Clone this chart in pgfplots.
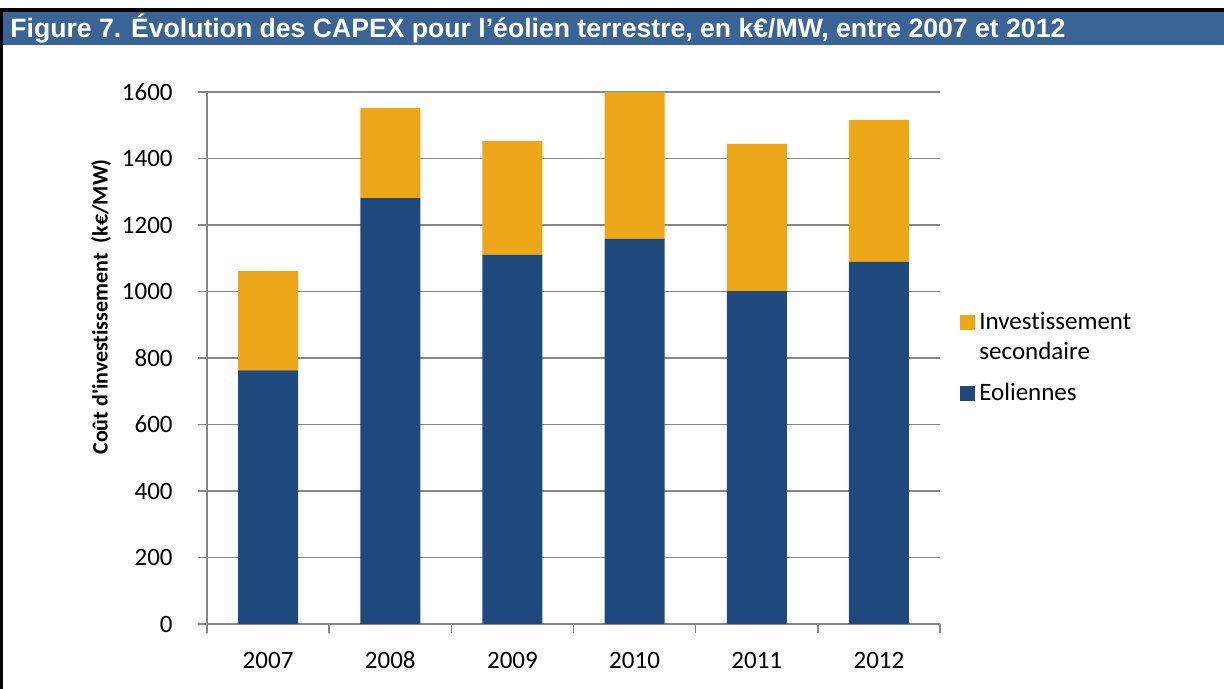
\documentclass[border=0pt]{standalone}
\usepackage{pgfplots}
\pgfplotsset{compat=1.18}
\usepackage{fontspec}
\setmainfont{Carlito}[Ligatures={TeXOff,NoCommon}]
\newfontfamily\titlefont{Liberation Sans}
\definecolor{titleblue}{HTML}{3A6396}
\definecolor{barblue}{HTML}{1F497D}
\definecolor{barorange}{HTML}{EDA617}
\definecolor{gridgray}{HTML}{868686}
\begin{document}
\begin{tikzpicture}
\path[use as bounding box] (0,0) rectangle (612pt,344.5pt);
\fill[titleblue] (1.5pt,322pt) rectangle (612pt,338.5pt);
\fill[black] (0,338.5pt) rectangle (612pt,340.5pt);
\fill[black] (0,0) rectangle (1.5pt,340.5pt);
\node[anchor=base west,text=white,font=\titlefont\bfseries\fontsize{13.3}{15}\selectfont,inner sep=0pt] at (5pt,325.5pt) {Figure 7. Évolution des CAPEX pour l’éolien terrestre, en k€/MW, entre 2007 et 2012};
\begin{axis}[
  at={(103.5pt,32.5pt)}, anchor=south west,
  scale only axis, width=366.5pt, height=266pt,
  ybar stacked, bar width=30pt,
  xmin=-0.5, xmax=5.5, ymin=0, ymax=1600,
  axis y line*=left, axis x line*=bottom,
  axis line style={gridgray, line width=0.75pt},
  tick style={gridgray, line width=0.75pt},
  tick align=outside, major tick length=4.5pt,
  xtick={-0.5,0.5,1.5,2.5,3.5,4.5,5.5}, xticklabels={},
  extra x ticks={0,1,2,3,4,5},
  extra x tick labels={2007,2008,2009,2010,2011,2012},
  extra x tick style={major tick length=0pt, xticklabel style={anchor=center, yshift=-18pt}},
  ytick={0,200,...,1600},
  /pgf/number format/assume math mode=true,
  /pgf/number format/1000 sep={},
  ymajorgrids, grid style={gridgray, line width=0.75pt},
  ticklabel style={font=\fontsize{12.5}{15}\selectfont, inner sep=0pt},
  yticklabel style={anchor=east, xshift=-12.5pt},
  ylabel={\bfseries Coût d'investissement\ \ (k€/MW)},
  ylabel style={at={(axis description cs:-0.1446,0.596)}, anchor=center, font=\fontsize{11}{13}\selectfont},
  reverse legend,
  legend style={at={(rel axis cs:1,0.5)}, anchor=west, xshift=10pt, draw=none, fill=none,
    font=\fontsize{12.5}{15}\selectfont, cells={anchor=west, align=left}, inner sep=0pt, row sep=6pt},
]
\addplot[fill=barblue, draw=none,
  legend image code/.code={\fill[barblue] (0pt,-3.75pt) rectangle (7.5pt,3.75pt);}]
  coordinates {(0,763) (1,1281) (2,1110) (3,1158) (4,1001) (5,1089)};
\addplot[fill=barorange, draw=none,
  legend image code/.code={\fill[barorange] (0pt,3.75pt) rectangle (7.5pt,11.25pt);}]
  coordinates {(0,298) (1,271) (2,343) (3,442) (4,443) (5,427)};
\legend{Eoliennes, {Investissement\\secondaire}}
\end{axis}
\end{tikzpicture}
\end{document}
